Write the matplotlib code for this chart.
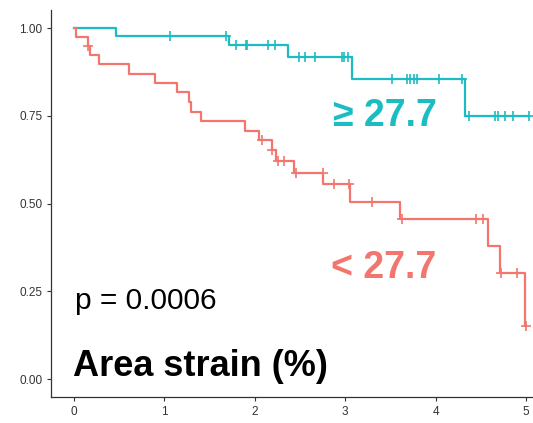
import numpy as np
import matplotlib
matplotlib.use('Agg')
import matplotlib.pyplot as plt

plt.rcParams['font.family'] = ['Liberation Sans', 'DejaVu Sans']

# группа >= 27.7 (бирюзовая)
hi_times = [0, 0.46, 1.71, 2.37, 3.08, 4.33, 5.03]
hi_surv = [1.0, 0.977, 0.951, 0.916, 0.856, 0.75, 0.75]
hi_cens = [1.06, 1.68, 1.79, 1.90, 1.91, 2.15, 2.22, 2.49, 2.56, 2.67, 2.96, 2.99,
           3.03, 3.52, 3.68, 3.72, 3.76, 3.80, 4.04, 4.29, 4.37, 4.66, 4.69, 4.77,
           4.86, 5.03]

# группа < 27.7 (красная)
lo_times = [0, 0.02, 0.15, 0.18, 0.28, 0.61, 0.90, 1.14, 1.27, 1.29, 1.41, 1.89,
            2.05, 2.19, 2.23, 2.43, 2.76, 3.05, 3.61, 4.58, 4.71, 4.99, 5.0]
lo_surv = [1.0, 0.975, 0.95, 0.923, 0.897, 0.870, 0.843, 0.817, 0.79, 0.761, 0.735,
           0.707, 0.680, 0.652, 0.620, 0.588, 0.555, 0.505, 0.455, 0.379, 0.303,
           0.152, 0.152]
lo_cens = [0.15, 2.08, 2.19, 2.26, 2.32, 2.46, 2.75, 2.88, 3.04, 3.30, 3.63, 4.45,
           4.53, 4.72, 4.90, 5.0]

x_ticks = [0, 1, 2, 3, 4, 5]
y_ticks = [0.0, 0.25, 0.5, 0.75, 1.0]

teal = '#1CBDC2'
red = '#F2766E'


def surv_at(times, surv, t):
    # значение ступенчатой функции в момент t
    idx = np.searchsorted(times, t, side='right') - 1
    return np.array(surv)[idx]


fig = plt.figure(figsize=(5.33, 4.23), dpi=100)
ax = fig.add_axes([0.0964, 0.0624, 0.9328, 0.9129])

for times, surv, cens, col in [(hi_times, hi_surv, hi_cens, teal),
                               (lo_times, lo_surv, lo_cens, red)]:
    ax.step(times, surv, where='post', color=col, lw=1.6)
    ax.plot(cens, surv_at(times, surv, cens), '+', color=col, ms=7, mew=1.2,
            linestyle='none')

ax.set_xlim(-0.25, 5.25)
ax.set_ylim(-0.05, 1.05)
ax.set_xticks(x_ticks)
ax.set_yticks(y_ticks)
ax.set_yticklabels(['0.00', '0.25', '0.50', '0.75', '1.00'])
ax.tick_params(labelsize=8.5, colors='#333333', length=3, width=0.8)
for s in ['top', 'right']:
    ax.spines[s].set_visible(False)
for s in ['left', 'bottom']:
    ax.spines[s].set_color('#333333')
    ax.spines[s].set_linewidth(0.9)

ax.text(2.87, 0.72, '\u2265 27.7', color=teal, fontsize=27, fontweight='bold',
        ha='left', va='baseline')
ax.text(2.84, 0.287, '< 27.7', color=red, fontsize=27, fontweight='bold',
        ha='left', va='baseline')
ax.text(0.01, 0.2, 'p = 0.0006', color='black', fontsize=21.5,
        ha='left', va='baseline')
ax.text(-0.01, 0.0085, 'Area strain (%)', color='black', fontsize=26,
        fontweight='bold', ha='left', va='baseline')

fig.savefig('out.png', dpi=100)
